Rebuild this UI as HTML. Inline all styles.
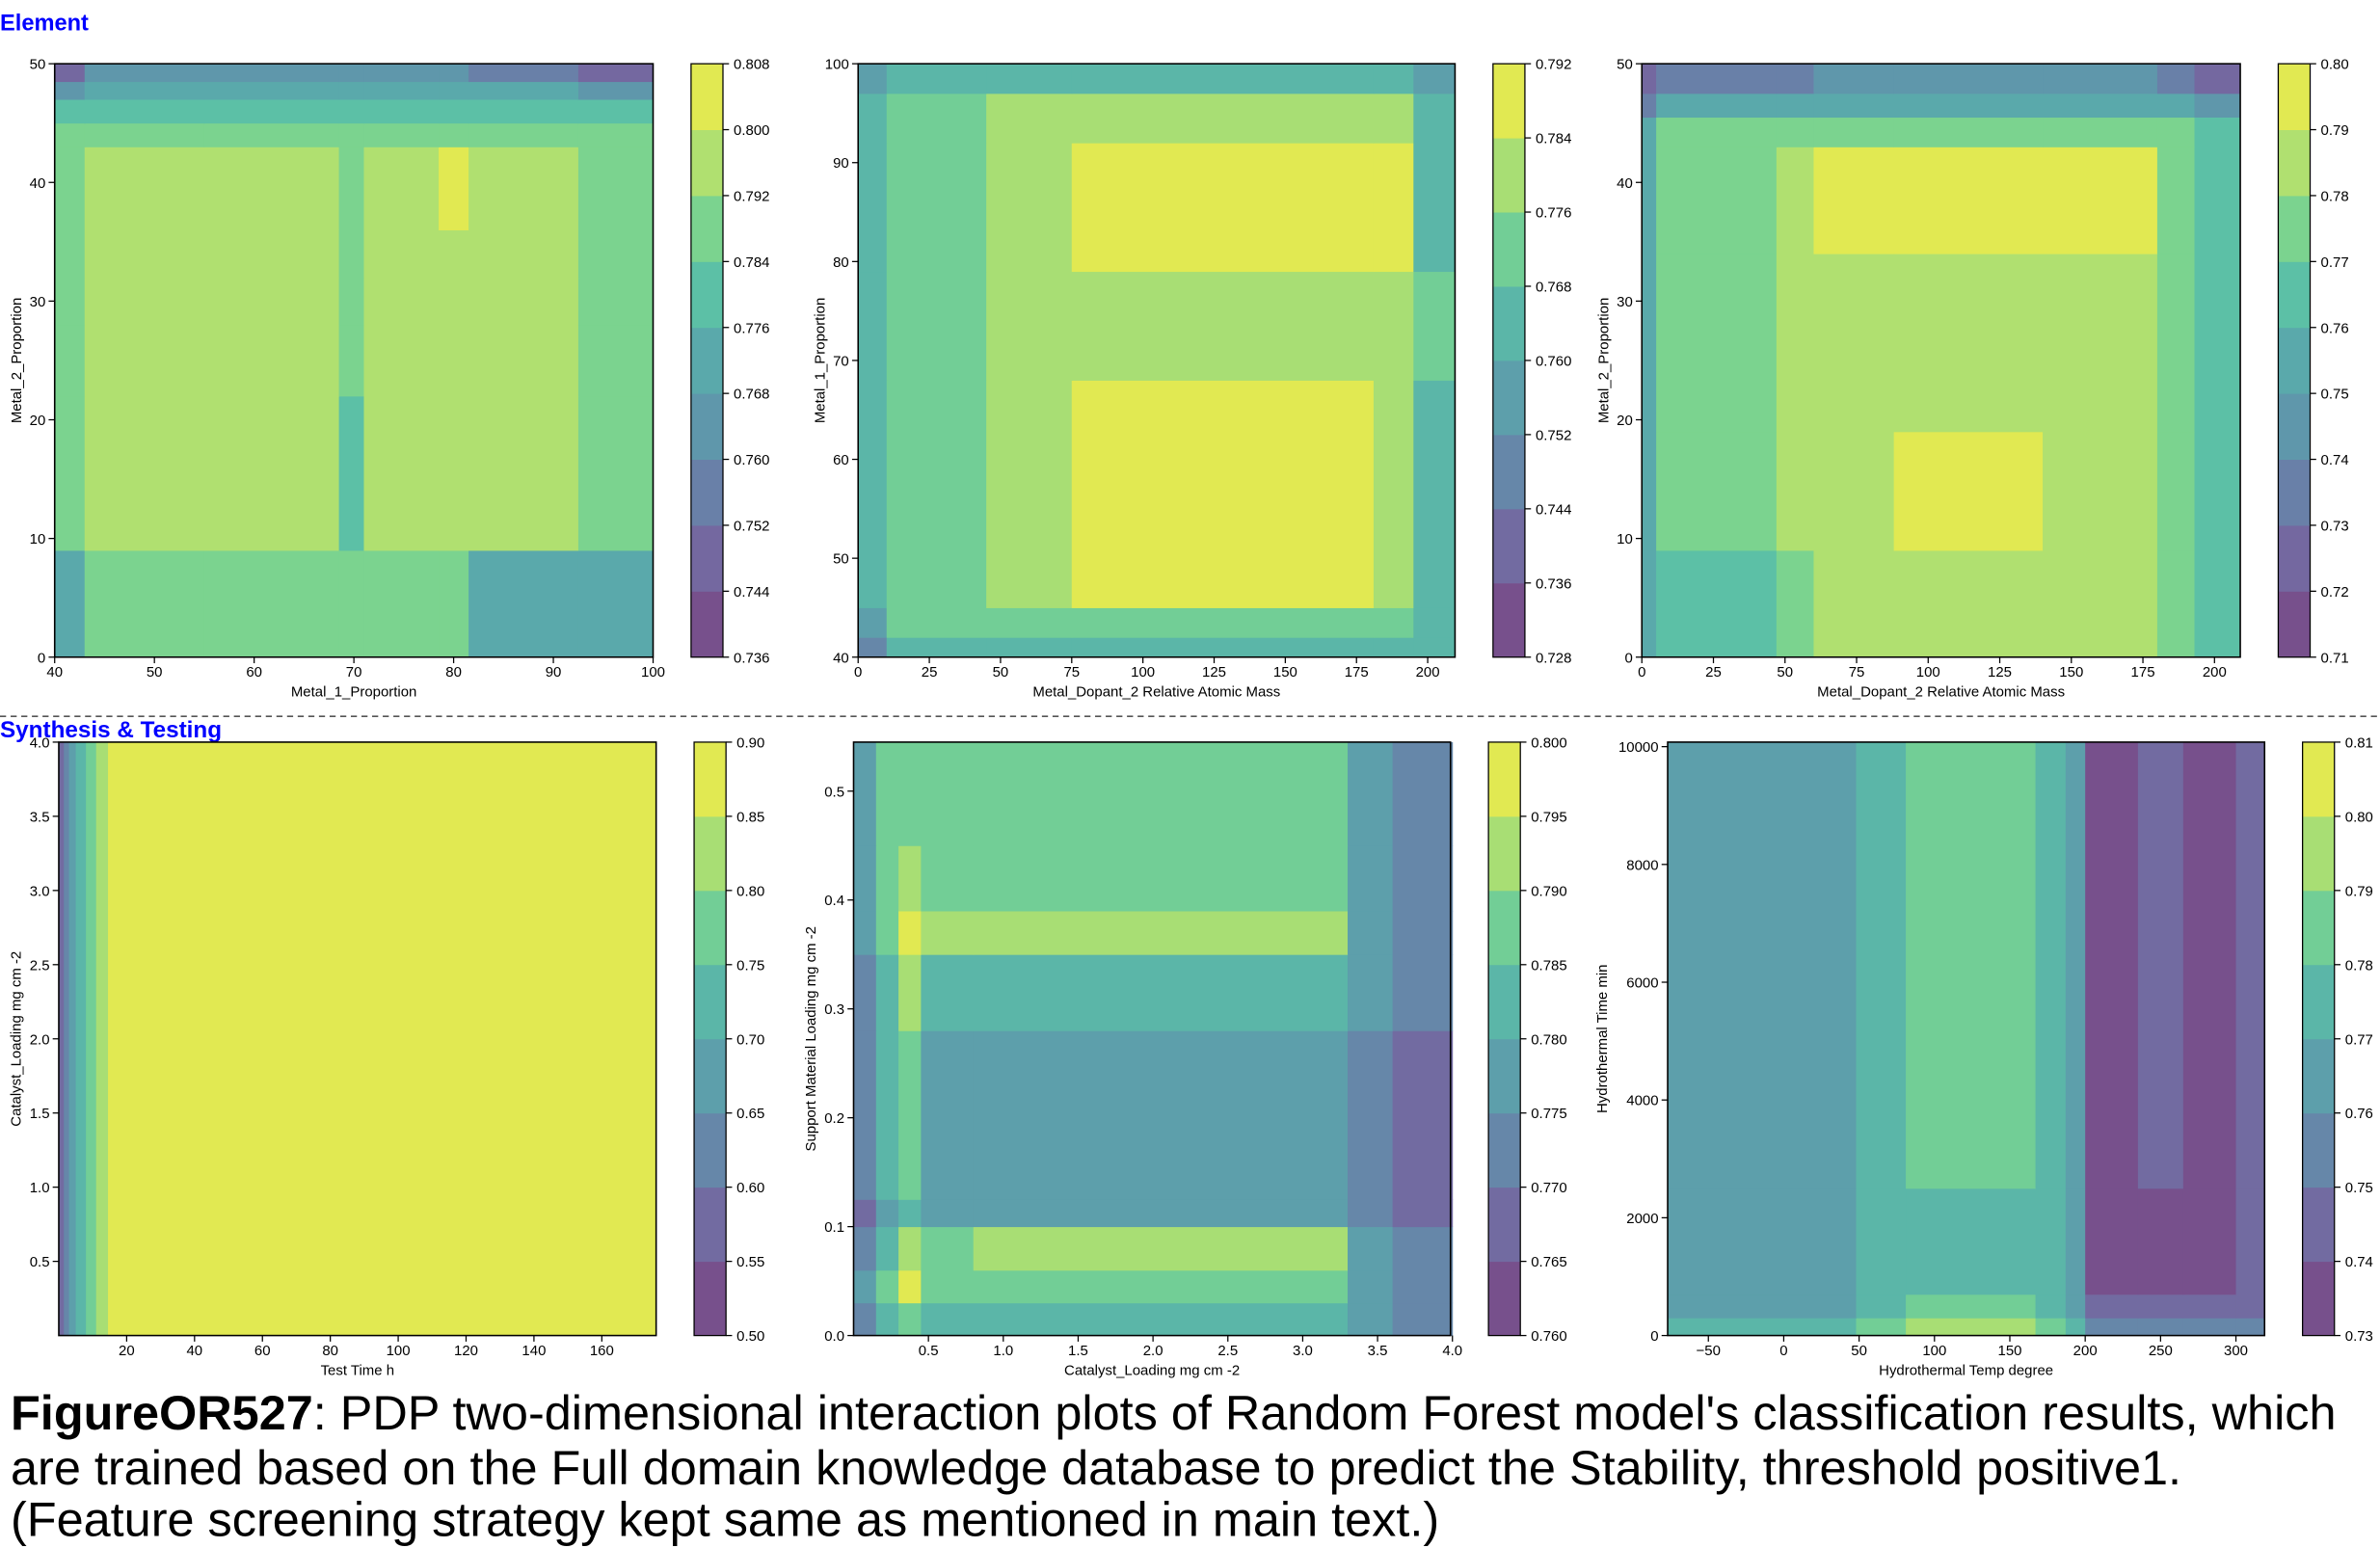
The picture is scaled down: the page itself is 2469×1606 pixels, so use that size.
<!DOCTYPE html>
<html><head><meta charset="utf-8"><style>
html,body{margin:0;padding:0;background:#fff;}
svg{display:block;}
text{font-family:"Liberation Sans",sans-serif;}
</style></head><body>
<svg id="fig" xmlns="http://www.w3.org/2000/svg" width="2469" height="1606" viewBox="0 0 1567 1020" preserveAspectRatio="none">
<rect width="1567" height="1020" fill="#fff"/>
<text x="0" y="20" font-size="15" font-weight="bold" fill="#0000ff">Element</text>
<line x1="0" y1="472" x2="1567" y2="472" stroke="#555" stroke-width="1" stroke-dasharray="4,3"/>
<text x="0" y="486" font-size="15.4" font-weight="bold" fill="#0000ff">Synthesis &amp; Testing</text>
<g id="panels"></g>
<text x="7" y="942" font-size="32" fill="#000"><tspan font-weight="bold">FigureOR527</tspan>: PDP two-dimensional interaction plots of Random Forest model's classification results, which</text>
<text x="7" y="978" font-size="32" fill="#000">are trained based on the Full domain knowledge database to predict the Stability, threshold positive1.</text>
<text x="7" y="1012" font-size="32" fill="#000">(Feature screening strategy kept same as mentioned in main text.)</text>
</svg>
<script>
// ---- Panel 1 data ----
const p1XEdges=[40,43,55,68.5,71,78.5,81.5,92.5,100];
const p1YEdges=[0,9,22,28,32,36,43,45,47,48.5,50];
const p1Values=[
[.772,.788,.788,.788,.788,.788,.772,.772],
[.788,.796,.796,.780,.796,.796,.796,.788],
[.788,.796,.796,.788,.796,.796,.796,.788],
[.788,.796,.796,.788,.796,.796,.796,.788],
[.788,.796,.796,.788,.796,.796,.796,.788],
[.788,.796,.796,.788,.796,.804,.796,.788],
[.788,.788,.788,.788,.788,.788,.788,.788],
[.780,.780,.780,.780,.780,.780,.780,.780],
[.764,.772,.772,.772,.772,.772,.772,.764],
[.748,.764,.764,.764,.764,.764,.756,.748]];
const p1CbTicks=[0.736,0.744,0.752,0.760,0.768,0.776,0.784,0.792,0.800,0.808];
const p1XTicks=[40,50,60,70,80,90,100];
const p1YTicks=[0,10,20,30,40,50];
// ---- Panel 2 data ----
const p2XEdges=[0,10,45,75,181,195,209.6];
const p2YEdges=[40,42,45,68,79,92,97,100];
const p2Values=[
[.748,.764,.764,.764,.764,.764],
[.756,.772,.772,.772,.772,.764],
[.764,.772,.780,.788,.780,.764],
[.764,.772,.780,.780,.780,.772],
[.764,.772,.780,.788,.788,.764],
[.764,.772,.780,.780,.780,.764],
[.756,.764,.764,.764,.764,.756]];
const p2CbTicks=[0.728,0.736,0.744,0.752,0.760,0.768,0.776,0.784,0.792];
const p2XTicks=[0,25,50,75,100,125,150,175,200];
const p2YTicks=[40,50,60,70,80,90,100];
// ---- Panel 3 data ----
const p3XEdges=[0,5,47,60,88,140,180,193,209];
const p3YEdges=[0,9,19,34,43,45.5,47.5,50];
const p3Values=[
[.755,.765,.775,.785,.785,.785,.775,.765],
[.755,.775,.785,.785,.795,.785,.775,.765],
[.755,.775,.785,.785,.785,.785,.775,.765],
[.755,.775,.785,.795,.795,.795,.775,.765],
[.755,.775,.775,.775,.775,.775,.775,.765],
[.735,.755,.755,.755,.755,.755,.755,.745],
[.725,.735,.735,.745,.745,.745,.735,.725]];
const p3CbTicks=[0.71,0.72,0.73,0.74,0.75,0.76,0.77,0.78,0.79,0.80];
const p3XTicks=[0,25,50,75,100,125,150,175,200];
const p3YTicks=[0,10,20,30,40,50];
// ---- Panel 4 data ----
const p4XEdges=[0,1.5,3,5,8,11,14.5,176];
const p4YEdges=[0,4];
const p4Values=[[.575,.625,.675,.725,.775,.825,.875]];
const p4CbTicks=[0.50,0.55,0.60,0.65,0.70,0.75,0.80,0.85,0.90];
const p4XTicks=[20,40,60,80,100,120,140,160];
const p4YTicks=[0.5,1.0,1.5,2.0,2.5,3.0,3.5,4.0];
// ---- Panel 5 data ----
const p5XEdges=[0,0.15,0.3,0.45,0.8,3.3,3.6,4.0];
const p5YEdges=[0,0.03,0.06,0.1,0.125,0.28,0.35,0.39,0.45,0.545];
const p5Values=[
[.7725,.7825,.7875,.7825,.7825,.7775,.7725],
[.7775,.7875,.7975,.7875,.7875,.7775,.7725],
[.7725,.7825,.7925,.7875,.7925,.7775,.7725],
[.7675,.7775,.7825,.7775,.7775,.7725,.7675],
[.7725,.7825,.7875,.7775,.7775,.7725,.7675],
[.7725,.7825,.7925,.7825,.7825,.7775,.7725],
[.7775,.7875,.7975,.7925,.7925,.7775,.7725],
[.7775,.7875,.7925,.7875,.7875,.7775,.7725],
[.7775,.7875,.7875,.7875,.7875,.7775,.7725]];
const p5CbTicks=[0.760,0.765,0.770,0.775,0.780,0.785,0.790,0.795,0.800];
const p5XTicks=[0.5,1.0,1.5,2.0,2.5,3.0,3.5,4.0];
const p5YTicks=[0.0,0.1,0.2,0.3,0.4,0.5];
// ---- Panel 6 data ----
const p6XEdges=[-77,48,81,167,187,200,235,265,300,319];
const p6YEdges=[0,300,700,2500,10077];
const p6Values=[
[.775,.785,.795,.785,.775,.755,.755,.755,.755],
[.765,.775,.785,.775,.765,.745,.745,.745,.745],
[.765,.775,.775,.775,.765,.735,.735,.735,.745],
[.765,.775,.785,.775,.765,.735,.745,.735,.745]];
const p6CbTicks=[0.73,0.74,0.75,0.76,0.77,0.78,0.79,0.80,0.81];
const p6XTicks=[-50,0,50,100,150,200,250,300];
const p6YTicks=[0,2000,4000,6000,8000,10000];

const NS="http://www.w3.org/2000/svg";
const PAL=["#77508c","#7468a0","#6980a8","#5f97ab","#5aa9ab","#5cc0a6","#7bd38f","#b0e070","#e1e952"];
function hex2rgb(h){return [1,3,5].map(i=>parseInt(h.substr(i,2),16));}
function palColor(t){
  const f=t*(PAL.length-1);const i=Math.min(PAL.length-2,Math.floor(f));const r=f-i;
  const a=hex2rgb(PAL[i]),b=hex2rgb(PAL[i+1]);
  return "rgb("+a.map((v,k)=>Math.round(v+(b[k]-v)*r)).join(",")+")";
}
function mk(tag,attrs,parent){const e=document.createElementNS(NS,tag);for(const k in attrs)e.setAttribute(k,attrs[k]);parent.appendChild(e);return e;}
function fmt(v,d){return v.toFixed(d);}
const root=document.getElementById("panels");

function drawPanel(id,box,xDom,yDom,xEdges,yEdges,values,cbTicks,xTicks,yTicks,xDec,yDec,cbDec,xLabel,yLabel,cb){
  const g=mk("g",{},root);
  
  
  const sx=v=>box.x+(v-xDom[0])/(xDom[1]-xDom[0])*box.w;
  const sy=v=>box.y+box.h-(v-yDom[0])/(yDom[1]-yDom[0])*box.h;
  const lo=cbTicks[0],hi=cbTicks[cbTicks.length-1],nb=cbTicks.length-1,step=(hi-lo)/nb;
  const colorOf=v=>{let i=Math.floor((v-lo)/step+1e-9);i=Math.max(0,Math.min(nb-1,i));return palColor(nb>1?i/(nb-1):0);};
  for(let r=0;r<values.length;r++){
    for(let c=0;c<values[r].length;c++){
      const x0=sx(xEdges[c]),x1=sx(xEdges[c+1]),y0=sy(yEdges[r+1]),y1=sy(yEdges[r]);
      const cell=mk("rect",{x:x0,y:y0,width:x1-x0+0.3,height:y1-y0+0.3,fill:colorOf(values[r][c])},g);
      
      
    }
  }
  const frame=mk("rect",{x:box.x,y:box.y,width:box.w,height:box.h,fill:"none",stroke:"#000","stroke-width":1},g);
  
  
  xTicks.forEach(t=>{
    const x=sx(t);
    mk("line",{x1:x,y1:box.y+box.h,x2:x,y2:box.y+box.h+4,stroke:"#000","stroke-width":0.8},g);
    const tl=mk("text",{x:x,y:box.y+box.h+13,"font-size":9.5,"text-anchor":"middle"},g);
    tl.textContent=(t<0?"\u2212"+fmt(-t,xDec):fmt(t,xDec));
    
    
  });
  yTicks.forEach(t=>{
    const y=sy(t);
    mk("line",{x1:box.x-4,y1:y,x2:box.x,y2:y,stroke:"#000","stroke-width":0.8},g);
    const tl=mk("text",{x:box.x-6,y:y+3.5,"font-size":9.5,"text-anchor":"end"},g);
    tl.textContent=fmt(t,yDec);
    
    
  });
  const xl=mk("text",{x:box.x+box.w/2,y:box.y+box.h+26,"font-size":9.5,"text-anchor":"middle"},g);
  xl.textContent=xLabel;
  
  
  const yx=box.x-(yDec>0?25:(yTicks[yTicks.length-1]>=1000?40:22));
  const yl=mk("text",{x:yx,y:box.y+box.h/2,"font-size":9.5,"text-anchor":"middle",transform:"rotate(-90 "+yx+" "+(box.y+box.h/2)+")"},g);
  yl.textContent=yLabel;
  
  
  const cg=mk("g",{},g);
  
  
  const bh=box.h/nb;
  for(let i=0;i<nb;i++){
    const b=mk("rect",{x:cb,y:box.y+box.h-(i+1)*bh,width:21,height:bh+0.3,fill:palColor(nb>1?i/(nb-1):0)},cg);
    
    
  }
  mk("rect",{x:cb,y:box.y,width:21,height:box.h,fill:"none",stroke:"#000","stroke-width":0.8},cg);
  cbTicks.forEach((t,i)=>{
    const y=box.y+box.h-i*bh;
    mk("line",{x1:cb+21,y1:y,x2:cb+25,y2:y,stroke:"#000","stroke-width":0.8},cg);
    const tl=mk("text",{x:cb+28,y:y+3.5,"font-size":9.5},cg);
    tl.textContent=fmt(t,cbDec);
    
    
  });
}
drawPanel("pdp-metal1-metal2",{x:36,y:42,w:394,h:391},[40,100],[0,50],p1XEdges,p1YEdges,p1Values,p1CbTicks,p1XTicks,p1YTicks,0,0,3,"Metal_1_Proportion","Metal_2_Proportion",455);
drawPanel("pdp-dopant-metal1",{x:565,y:42,w:393,h:391},[0,209.6],[40,100],p2XEdges,p2YEdges,p2Values,p2CbTicks,p2XTicks,p2YTicks,0,0,3,"Metal_Dopant_2 Relative Atomic Mass","Metal_1_Proportion",983);
drawPanel("pdp-dopant-metal2",{x:1081,y:42,w:394,h:391},[0,209],[0,50],p3XEdges,p3YEdges,p3Values,p3CbTicks,p3XTicks,p3YTicks,0,0,2,"Metal_Dopant_2 Relative Atomic Mass","Metal_2_Proportion",1500);
drawPanel("pdp-testtime-loading",{x:38.7,y:489,w:393.3,h:391},[0,176],[0,4],p4XEdges,p4YEdges,p4Values,p4CbTicks,p4XTicks,p4YTicks,0,1,2,"Test Time h","Catalyst_Loading mg cm -2",457);
drawPanel("pdp-loading-support",{x:562,y:489,w:393,h:391},[0,3.987],[0,0.545],p5XEdges,p5YEdges,p5Values,p5CbTicks,p5XTicks,p5YTicks,1,1,3,"Catalyst_Loading mg cm -2","Support Material Loading mg cm -2",980);
drawPanel("pdp-temp-time",{x:1098,y:489,w:393,h:391},[-77,319],[0,10077],p6XEdges,p6YEdges,p6Values,p6CbTicks,p6XTicks,p6YTicks,0,0,2,"Hydrothermal Temp degree","Hydrothermal Time min",1516);
</script>
</body></html>
